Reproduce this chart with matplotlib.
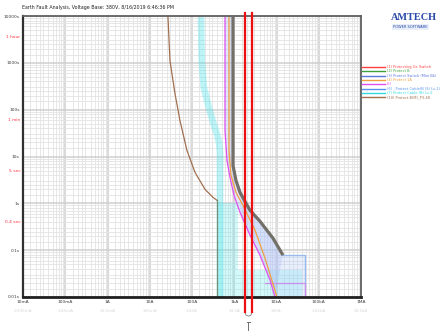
import matplotlib
matplotlib.use("Agg")
import matplotlib.pyplot as plt
from matplotlib.lines import Line2D
from matplotlib.ticker import LogLocator, NullFormatter, FixedLocator
import matplotlib.transforms as mtrans

# ---------------- data (current in A, time in s) ----------------
title = "Earth Fault Analysis, Voltage Base: 380V, 8/16/2019 6:46:36 PM"
x_ticks = [0.01, 0.1, 1, 10, 100, 1e3, 1e4, 1e5, 1e6]
x_labels = ["10mA", "100mA", "1A", "10A", "100A", "1kA", "10kA", "100kA", "1MA"]
x_labels2 = ["0.345mA", "3.45mA", "34.5mA", "345mA", "3.45A", "34.5A", "345A", "3.45kA", "34.5kA"]
y_ticks = [0.01, 0.1, 1, 10, 100, 1000, 10000]
y_labels = ["0.01s", "0.1s", "1s", "10s", "100s", "1000s", "10000s"]
mark_times = [3600, 60, 5, 0.4]
mark_labels = ["1 hour", "1 min", "5 sec", "0.4 sec"]

legend_labels = ["(1) Protecting Gr. Switch", "(2) Protect B", "(3) Protect Switch (Mini Bk)",
                 "(4) Protect 1A", "(5)", "(6) - Protect Cable(B (S) Lv-1)",
                 "(7) Protect Cable (B) Lv-2", "(10) Protect B(M)_P3-48"]
legend_colors = ["#ff4040", "#40a040", "#5878e0", "#f0a040", "#e050f0", "#5890f0", "#30d8e0", "#a07050"]

brown_I = [27, 28.6, 30.1, 39.6, 52, 76, 118, 203, 314, 391]
brown_t = [9520, 2940, 1100, 219, 58, 13.4, 4.57, 1.99, 1.34, 1.16]

green_I = [391, 391]
green_t = [1.16, 0.01]

cyan_I = [163, 170, 190, 245, 314, 391, 436, 460, 460]
cyan_t = [9520, 1100, 300, 120, 55, 30, 20, 12, 0.01]
cyan_fill_I = [391, 1227, 1227, 40180, 40180, 391]
cyan_fill_t = [1.0, 1.0, 0.0375, 0.0375, 0.01, 0.01]

gray_I = [934, 934, 1100, 1368, 2360, 4064, 8260, 14250]
gray_t = [9520, 6.4, 3.08, 1.71, 0.71, 0.414, 0.18, 0.078]

magenta_I = [604, 604, 673, 793, 986, 1368, 2360, 4064, 7015, 9210]
magenta_t = [9520, 35.7, 8.2, 3.57, 1.48, 0.644, 0.208, 0.078, 0.023, 0.01]

orange_I = [751, 751, 838, 1100, 1611, 3097, 5343, 10280]
orange_t = [9520, 13.4, 3.94, 1.71, 0.905, 0.267, 0.0676, 0.01]

box6_I = [14250, 47300, 47300]
box6_t = [0.078, 0.078, 0.01]
purple_I = [5343, 47300, 47300]
purple_t = [0.020, 0.020, 0.01]

fault_I = [1795, 2630]
fault_t = [0.0048, 11600]

# ---------------- figure ----------------
fig = plt.figure(figsize=(4.41, 3.35), dpi=100)
fig.patch.set_facecolor("white")
ax = fig.add_axes([23 / 441, 38 / 335, 338 / 441, 281 / 335])
ax.set_xscale("log")
ax.set_yscale("log")
ax.set_xlim(0.01, 1e6)
ax.set_ylim(0.01, 1e4)

subs = [1.5, 2, 2.5, 3, 4, 5, 6, 7, 8, 9]
ax.xaxis.set_minor_locator(LogLocator(base=10, subs=subs, numticks=100))
ax.yaxis.set_minor_locator(LogLocator(base=10, subs=subs, numticks=100))
ax.xaxis.set_minor_formatter(NullFormatter())
ax.yaxis.set_minor_formatter(NullFormatter())
ax.xaxis.set_major_locator(FixedLocator(x_ticks))
ax.yaxis.set_major_locator(FixedLocator(y_ticks))
ax.set_xticklabels(x_labels)
ax.set_yticklabels(y_labels)
ax.tick_params(which="both", length=0, labelsize=3.2, colors="#404040", pad=2.5)
ax.grid(which="major", color="#cfcfcf", lw=1.1)
ax.grid(which="minor", color="#e3e3e3", lw=0.6)
ax.set_axisbelow(True)
for s in ax.spines.values():
    s.set_color("#606060")
    s.set_linewidth(1.3)
ax.spines["bottom"].set_color("#202020")
ax.spines["bottom"].set_linewidth(2)
ax.spines["left"].set_color("#303030")
ax.spines["left"].set_linewidth(1.6)

# faint second row of x labels
tb = mtrans.blended_transform_factory(ax.transData, ax.transAxes)
for xv, lab in zip(x_ticks, x_labels2):
    ax.text(xv, -0.042, lab, transform=tb, ha="center", va="top", fontsize=3, color="#d8d8d8")

# red time markers
tl = mtrans.blended_transform_factory(ax.transAxes, ax.transData)
for tv, lab in zip(mark_times, mark_labels):
    ax.text(-0.008, tv, lab, transform=tl, ha="right", va="center", fontsize=3.2, color="#ff3040")

# ---------------- curves ----------------
ax.fill(cyan_fill_I, cyan_fill_t, color="#50eaf0", alpha=0.25, lw=0)
ax.plot(cyan_I, cyan_t, color="#50e4ec", lw=4.8, alpha=0.38, solid_capstyle="butt")

# lavender band between magenta and gray
band_I = magenta_I + gray_I[::-1]
band_t = magenta_t + gray_t[::-1]
ax.fill(band_I, band_t, color="#a8b8f8", alpha=0.32, lw=0)
ax.fill(gray_I[3:] + box6_I + magenta_I[-1:][::-1] + magenta_I[5:][::-1],
        gray_t[3:] + box6_t + magenta_t[-1:][::-1] + magenta_t[5:][::-1],
        color="#b0c8f8", alpha=0.28, lw=0)
ax.plot(box6_I, box6_t, color="#98bcf0", lw=1.0)
ax.plot(purple_I, purple_t, color="#c890e8", lw=0.9)

ax.plot(brown_I, brown_t, color="#a07050", lw=0.9)
ax.plot(green_I, green_t, color="#70907a", lw=0.9)
ax.plot(magenta_I, magenta_t, color="#e050f0", lw=0.9)
ax.plot(orange_I, orange_t, color="#f0a040", lw=0.9)
ax.plot(gray_I, gray_t, color="#727068", lw=2.3, solid_capstyle="butt")

# fault current marker
for fi in fault_I:
    ax.plot([fi, fi], fault_t, color="#ee1010", lw=1.6, clip_on=False, zorder=5)
u_I = [fault_I[0], 1900, 2173, 2480, fault_I[1]]
u_t = [0.0048, 0.0041, 0.0039, 0.0041, 0.0048]
ax.plot(u_I, u_t, color="#909090", lw=0.7, clip_on=False)
ax.plot([1950, 2420], [0.00294, 0.00294], color="#707070", lw=0.7, clip_on=False)
ax.plot([2173, 2173], [0.00294, 0.00199], color="#707070", lw=0.7, clip_on=False)

# ---------------- title, legend, logo ----------------
fig.text(22 / 441, 1 - 8 / 335, title, fontsize=3.4, color="#202020", ha="left", va="center")

for i, (lab, col) in enumerate(zip(legend_labels, legend_colors)):
    yy = 1 - (67 + i * 4.3) / 335
    fig.add_artist(Line2D([362 / 441, 385 / 441], [yy, yy], color=col, lw=1.0))
    fig.text(387 / 441, yy, lab, fontsize=2.6, color=col, ha="left", va="center")

fig.text(391 / 441, 1 - 17 / 335, "AMTECH", fontsize=7.4, fontweight="bold",
         family="Liberation Serif", color="#2a4aa8", ha="left", va="center")
fig.text(393 / 441, 1 - 27 / 335, "POWER SOFTWARE", fontsize=2.6, color="#2a4aa8",
         ha="left", va="center",
         bbox=dict(boxstyle="square,pad=0.3", fc="#e8eefa", ec="none"))

fig.savefig("out.png", dpi=100, facecolor="white")
